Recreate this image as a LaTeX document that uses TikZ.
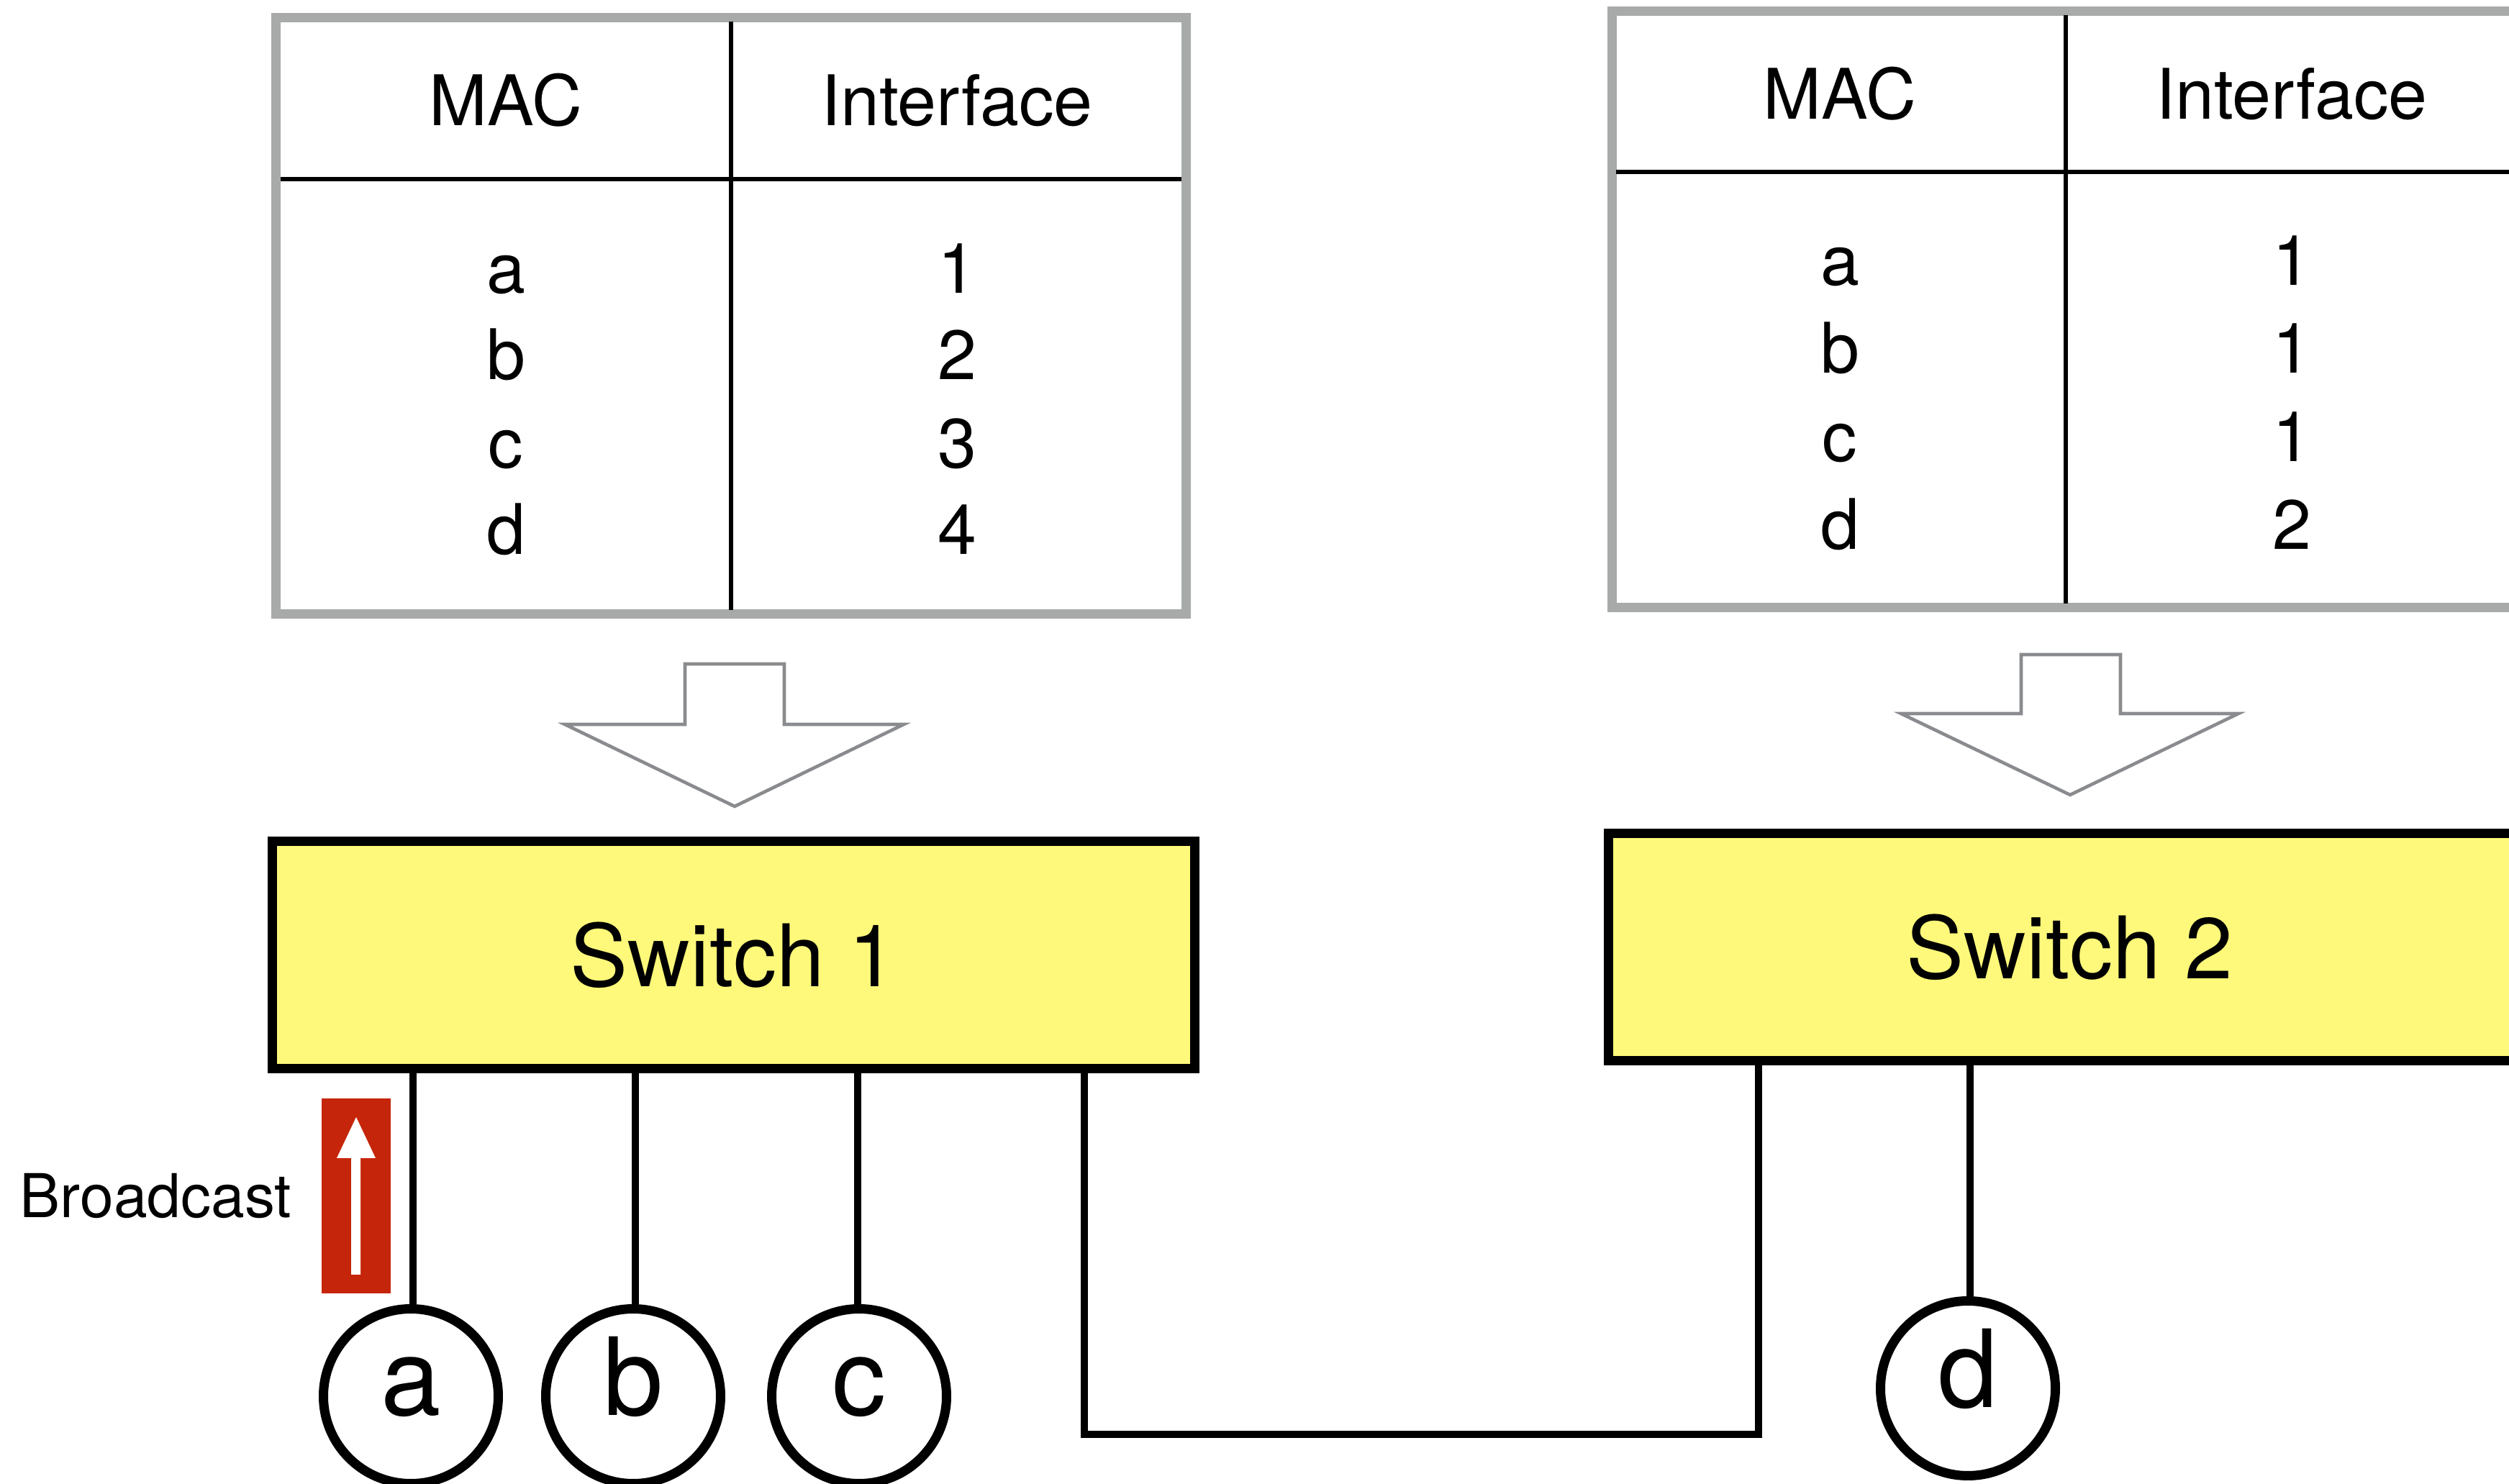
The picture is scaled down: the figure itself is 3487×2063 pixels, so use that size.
\documentclass[tikz,border=0pt]{standalone}
\usepackage{fontspec}
\setmainfont{TeX Gyre Heros}
\usetikzlibrary{calc}
\definecolor{tgray}{HTML}{A7AAA9}
\definecolor{agray}{HTML}{898B8E}
\definecolor{swyellow}{HTML}{FEF97A}
\definecolor{bred}{HTML}{C5250A}
\begin{document}
\begin{tikzpicture}[x=0.1pt,y=-0.1pt,
  tabframe/.style={draw=tgray,line width=1.3pt},
  tabrule/.style={draw=black,line width=0.57pt},
  tabtxt/.style={font=\fontsize{9.7}{11}\selectfont,anchor=base,inner sep=0pt},
  switchbox/.style={draw=black,line width=1.3pt,fill=swyellow,minimum width=128.3pt,minimum height=31.6pt,inner sep=0pt,outer sep=0pt,font=\fontsize{12}{14}\selectfont},
  host/.style={circle,draw=black,line width=1.3pt,fill=white,minimum size=24.3pt,inner sep=0pt,text height=10pt,text depth=4.6pt,font=\fontsize{15}{18}\selectfont},
  cable/.style={draw=black,line width=1.07pt},
  bigarrow/.style={draw=agray,line width=0.46pt,line join=miter,fill=white}
]
\useasboundingbox (0,0) rectangle (3487,2063);
\clip (0,0) rectangle (3487,2063);

% ---------- Table 1 ----------
\draw[tabframe] (383.5,24.5) rectangle (1648,854);
\draw[tabrule] (1016,30) -- (1016,848);
\draw[tabrule] (390,249) -- (1642,249);
\node[tabtxt] (t1mac) at (703,175) {MAC};
\node[tabtxt] (t1if) at (1330,175) {Interface};
\node[tabtxt] (t1ra) at (703,408) {a};
\node[tabtxt] (t1rb) at (703,528) {b};
\node[tabtxt] (t1rc) at (703,651) {c};
\node[tabtxt] (t1rd) at (703,771) {d};
\node[tabtxt] (t1ia) at (1330,408) {1};
\node[tabtxt] (t1ib) at (1330,528) {2};
\node[tabtxt] (t1ic) at (1330,651) {3};
\node[tabtxt] (t1id) at (1330,771) {4};

% ---------- Table 2 ----------
\draw[tabframe] (2240,15.5) rectangle (3505,845);
\draw[tabrule] (2871,21) -- (2871,839);
\draw[tabrule] (2246,239) -- (3500,239);
\node[tabtxt] (t2mac) at (2557,166) {MAC};
\node[tabtxt] (t2if) at (3185,166) {Interface};
\node[tabtxt] (t2ra) at (2557,397) {a};
\node[tabtxt] (t2rb) at (2557,519) {b};
\node[tabtxt] (t2rc) at (2557,642) {c};
\node[tabtxt] (t2rd) at (2557,764) {d};
\node[tabtxt] (t2ia) at (3185,397) {1};
\node[tabtxt] (t2ib) at (3185,519) {1};
\node[tabtxt] (t2ic) at (3185,642) {1};
\node[tabtxt] (t2id) at (3185,764) {2};

% ---------- hollow arrows ----------
\draw[bigarrow] (952,923) -- (1090,923) -- (1090,1007) -- (1256,1007) -- (1021,1121) -- (785,1007) -- (952,1007) -- cycle;
\draw[bigarrow] (2809,910) -- (2947,910) -- (2947,992) -- (3111,992) -- (2877,1105) -- (2642,992) -- (2809,992) -- cycle;

% ---------- switches ----------
\node[switchbox] (sw1) at (1019.5,1328) {Switch 1};
\node[switchbox] (sw2) at (2876.5,1316.5) {Switch 2};

% ---------- hosts ----------
\node[host] (ha) at (571,1941) {a};
\node[host] (hb) at (880,1941) {b};
\node[host] (hc) at (1194,1941) {c};
\node[host] (hd) at (2735,1930) {d};

\coordinate (p1) at ([xshift=19.6pt]sw1.south west);
\coordinate (p2) at ([xshift=50.5pt]sw1.south west);
\coordinate (p3) at ([xshift=81.4pt]sw1.south west);
\coordinate (p4) at ([xshift=112.9pt]sw1.south west);
\coordinate (q1) at ([xshift=20.9pt]sw2.south west);
\coordinate (q2) at ([xshift=50.3pt]sw2.south west);

\draw[cable] (p1) -- (p1 |- ha.north);
\draw[cable] (p2) -- (p2 |- hb.north);
\draw[cable] (p3) -- (p3 |- hc.north);
\draw[cable] (q2) -- (q2 |- hd.north);
\draw[cable] (p4) -- ++(0,508) -| (q1);

% ---------- broadcast marker ----------
\node[fill=bred,minimum width=9.6pt,minimum height=27.1pt,inner sep=0pt] (bcast) at (495,1662.5) {};
\fill[white] (488,1772) -- (501,1772) -- (501,1610) -- (522,1610) -- (495,1553) -- (468,1610) -- (488,1610) -- cycle;
\node[font=\fontsize{8.4}{10}\selectfont,anchor=base east,inner sep=0pt] (blabel) at (407,1693) {Broadcast};
\end{tikzpicture}
\end{document}
